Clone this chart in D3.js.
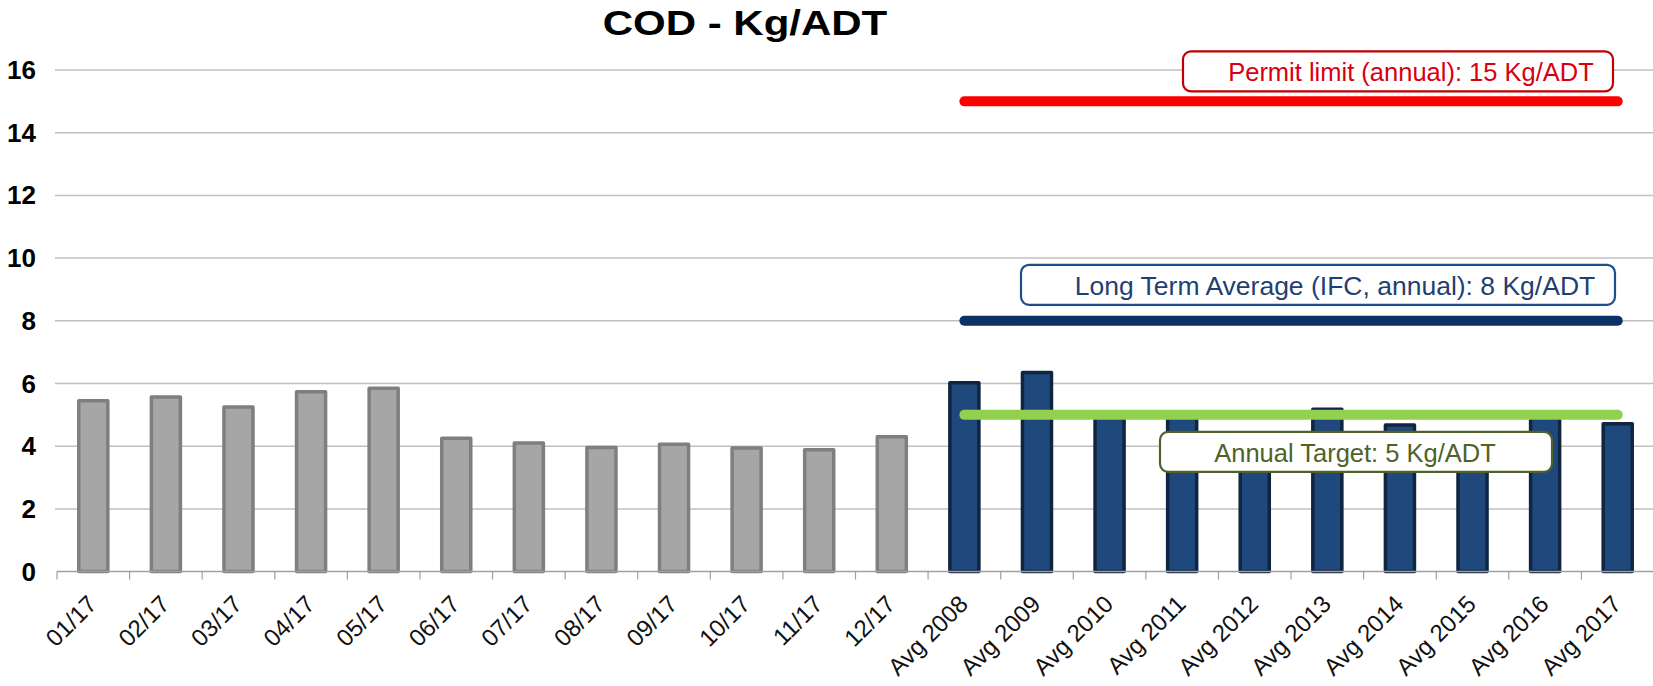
<!DOCTYPE html>
<html>
<head>
<meta charset="utf-8">
<script src="https://cdn.jsdelivr.net/npm/d3@7"></script>
<style>
  html, body { margin: 0; padding: 0; background: #fff; }
  svg { display: block; font-family: "Liberation Sans", Arial, sans-serif; }
</style>
</head>
<body>
<svg id="chart" width="1653" height="686"></svg>
<script>
// ---- Data ----
const monthCategories = ["01/17","02/17","03/17","04/17","05/17","06/17","07/17","08/17","09/17","10/17","11/17","12/17"];
const monthValues = [5.45, 5.57, 5.25, 5.74, 5.85, 4.25, 4.1, 3.96, 4.06, 3.94, 3.89, 4.3];
const avgCategories = ["Avg 2008","Avg 2009","Avg 2010","Avg 2011","Avg 2012","Avg 2013","Avg 2014","Avg 2015","Avg 2016","Avg 2017"];
const avgValues = [6.02, 6.35, 4.95, 4.95, 4.4, 5.18, 4.68, 4.35, 4.95, 4.72];
const yTicks = [0, 2, 4, 6, 8, 10, 12, 14, 16];
const refValues = [15, 8, 5];
const refLabels = ["Permit limit (annual):  15 Kg/ADT", "Long Term Average (IFC, annual): 8 Kg/ADT", "Annual  Target: 5 Kg/ADT"];
const titleText = "COD - Kg/ADT";

// ---- Styles / layout ----
const W = 1653, H = 686;
const plot = { left: 57, right: 1654, top: 70, bottom: 571.6 };
const refStyles = [
  { line: "#ff0000", stroke: "#c00000", text: "#d80010", cx: 1411, x0: 1183, x1: 1613, dy: -30, fs: 25.5 },
  { line: "#0b3264", stroke: "#1f4e8c", text: "#1f3f72", cx: 1335, x0: 1021, x1: 1615, dy: -36, fs: 26.5 },
  { line: "#92d050", stroke: "#4f6228", text: "#4f6228", cx: 1355, x0: 1160, x1: 1552, dy: 37, fs: 25.5 }
];

const svg = d3.select("#chart");
const categories = monthCategories.concat(avgCategories);
const data = monthCategories.map((c, i) => ({ cat: c, v: monthValues[i], kind: "m" }))
  .concat(avgCategories.map((c, i) => ({ cat: c, v: avgValues[i], kind: "a" })));

const x = d3.scaleBand().domain(categories).range([plot.left, plot.right]).paddingInner(0.6).paddingOuter(0.3);
const y = d3.scaleLinear().domain([0, 16]).range([plot.bottom, plot.top]);

// Gridlines
svg.append("g").selectAll("line").data(yTicks.filter(t => t > 0)).join("line")
  .attr("x1", plot.left - 2).attr("x2", W)
  .attr("y1", d => y(d)).attr("y2", d => y(d))
  .attr("stroke", "#c0c0c0").attr("stroke-width", 1.5);

// Y labels
svg.append("g").selectAll("text").data(yTicks).join("text")
  .attr("x", 36).attr("y", d => y(d))
  .attr("text-anchor", "end").attr("dominant-baseline", "central")
  .attr("font-size", 26).attr("font-weight", "bold").attr("fill", "#000")
  .text(d => d);

// Bars
svg.append("g").selectAll("rect").data(data).join("rect")
  .attr("x", d => x(d.cat)).attr("width", x.bandwidth())
  .attr("y", d => y(d.v)).attr("height", d => y(0) - y(d.v))
  .attr("fill", d => d.kind === "m" ? "#a6a6a6" : "#1f497d")
  .attr("stroke", d => d.kind === "m" ? "#7f7f7f" : "#10253f")
  .attr("stroke-width", 3.5).attr("stroke-linejoin", "round");

// X axis line + ticks
const step = x.step();
const x0 = x.range()[0];
svg.append("line").attr("x1", plot.left).attr("x2", W).attr("y1", y(0)).attr("y2", y(0))
  .attr("stroke", "#a0a0a0").attr("stroke-width", 1.5);
svg.append("g").selectAll("line").data(d3.range(categories.length + 1)).join("line")
  .attr("x1", i => x0 + i * step).attr("x2", i => x0 + i * step)
  .attr("y1", y(0)).attr("y2", y(0) + 8)
  .attr("stroke", "#a0a0a0").attr("stroke-width", 1.2);

// X labels
svg.append("g").selectAll("text").data(categories).join("text")
  .attr("transform", d => `translate(${x(d) + x.bandwidth() / 2 + 5},${y(0) + 34}) rotate(-45)`)
  .attr("text-anchor", "end")
  .attr("font-size", 24).attr("fill", "#111")
  .text(d => d);

// Reference lines
const xStart = x(avgCategories[0]) + x.bandwidth() / 2;
const xEnd = x(avgCategories[avgCategories.length - 1]) + x.bandwidth() / 2;
svg.append("g").selectAll("line").data(refValues).join("line")
  .attr("x1", xStart).attr("x2", xEnd)
  .attr("y1", d => y(d)).attr("y2", d => y(d))
  .attr("stroke", (d, i) => refStyles[i].line)
  .attr("stroke-width", 10).attr("stroke-linecap", "round");

// Annotation boxes
refValues.forEach((v, i) => {
  const s = refStyles[i];
  const g = svg.append("g");
  const cy = y(v) + s.dy;
  const h = 40;
  g.append("rect")
    .attr("x", s.x0).attr("y", cy - h / 2)
    .attr("width", s.x1 - s.x0).attr("height", h)
    .attr("rx", 8).attr("ry", 8)
    .attr("fill", "#fff").attr("stroke", s.stroke).attr("stroke-width", 2.2);
  g.append("text")
    .attr("x", s.cx).attr("y", cy + 1)
    .attr("text-anchor", "middle").attr("dominant-baseline", "central")
    .attr("font-size", s.fs).attr("fill", s.text)
    .text(refLabels[i]);
});

// Title
svg.append("text")
  .attr("transform", "translate(745,35) scale(1.2,1)")
  .attr("text-anchor", "middle")
  .attr("font-size", 35).attr("font-weight", "bold").attr("fill", "#000")
  .text(titleText);
</script>
</body>
</html>
